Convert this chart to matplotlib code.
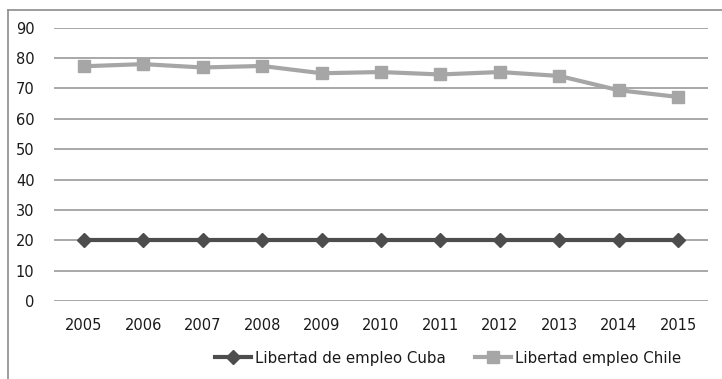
import numpy as np
import matplotlib
matplotlib.use('Agg')
import matplotlib.pyplot as plt
from matplotlib.lines import Line2D

# years and employment freedom scores
years = ['2005', '2006', '2007', '2008', '2009', '2010',
         '2011', '2012', '2013', '2014', '2015']
cuba = [20, 20, 20, 20, 20, 20, 20, 20, 20, 20, 20]
chile = [77.3, 78.0, 76.9, 77.4, 75.0, 75.4, 74.6, 75.4, 74.1, 69.4, 67.2]
yticks = [0, 10, 20, 30, 40, 50, 60, 70, 80, 90]

plt.rcParams['font.family'] = 'DejaVu Sans'

fig = plt.figure(figsize=(7.22, 3.79), dpi=100)
fig.patch.set_facecolor('white')

# outer frame: top and left edges only
fx, fy = 7.5 / 722, 1 - 10 / 379
fig.lines.append(Line2D([fx, 1.0], [fy, fy], transform=fig.transFigure,
                        color='#8c8c8c', linewidth=1.2))
fig.lines.append(Line2D([fx, fx], [0.0, fy], transform=fig.transFigure,
                        color='#8c8c8c', linewidth=1.2))

ax = fig.add_axes([54 / 722, 1 - 301 / 379, (708 - 54) / 722, (301 - 27.7) / 379])

x = np.arange(len(years))
ax.plot(x, cuba, color='#4d4d4d', linewidth=3, marker='D', markersize=7,
        label='Libertad de empleo Cuba', zorder=3)
ax.plot(x, chile, color='#a6a6a6', linewidth=3, marker='s', markersize=9,
        label='Libertad empleo Chile', zorder=3)

ax.set_xlim(-0.5, len(years) - 0.5)
ax.set_ylim(0, 90)
ax.set_yticks(yticks)
ax.set_xticks(x)
ax.set_xticklabels(years)
ax.yaxis.grid(True, color='#9a9a9a', linewidth=1.2)
ax.set_axisbelow(True)
for s in ax.spines.values():
    s.set_visible(False)
ax.tick_params(length=0, labelsize=10.5, colors='#1a1a1a')
ax.tick_params(axis='x', pad=12)
ax.tick_params(axis='y', pad=14)

fig.legend(loc='center', bbox_to_anchor=(448 / 722, 1 - 358 / 379), ncol=2,
           frameon=False, fontsize=10.8, handlelength=2.4, columnspacing=2.0,
           handletextpad=0.25, labelcolor='#1a1a1a')

fig.savefig('out.png', dpi=100)
